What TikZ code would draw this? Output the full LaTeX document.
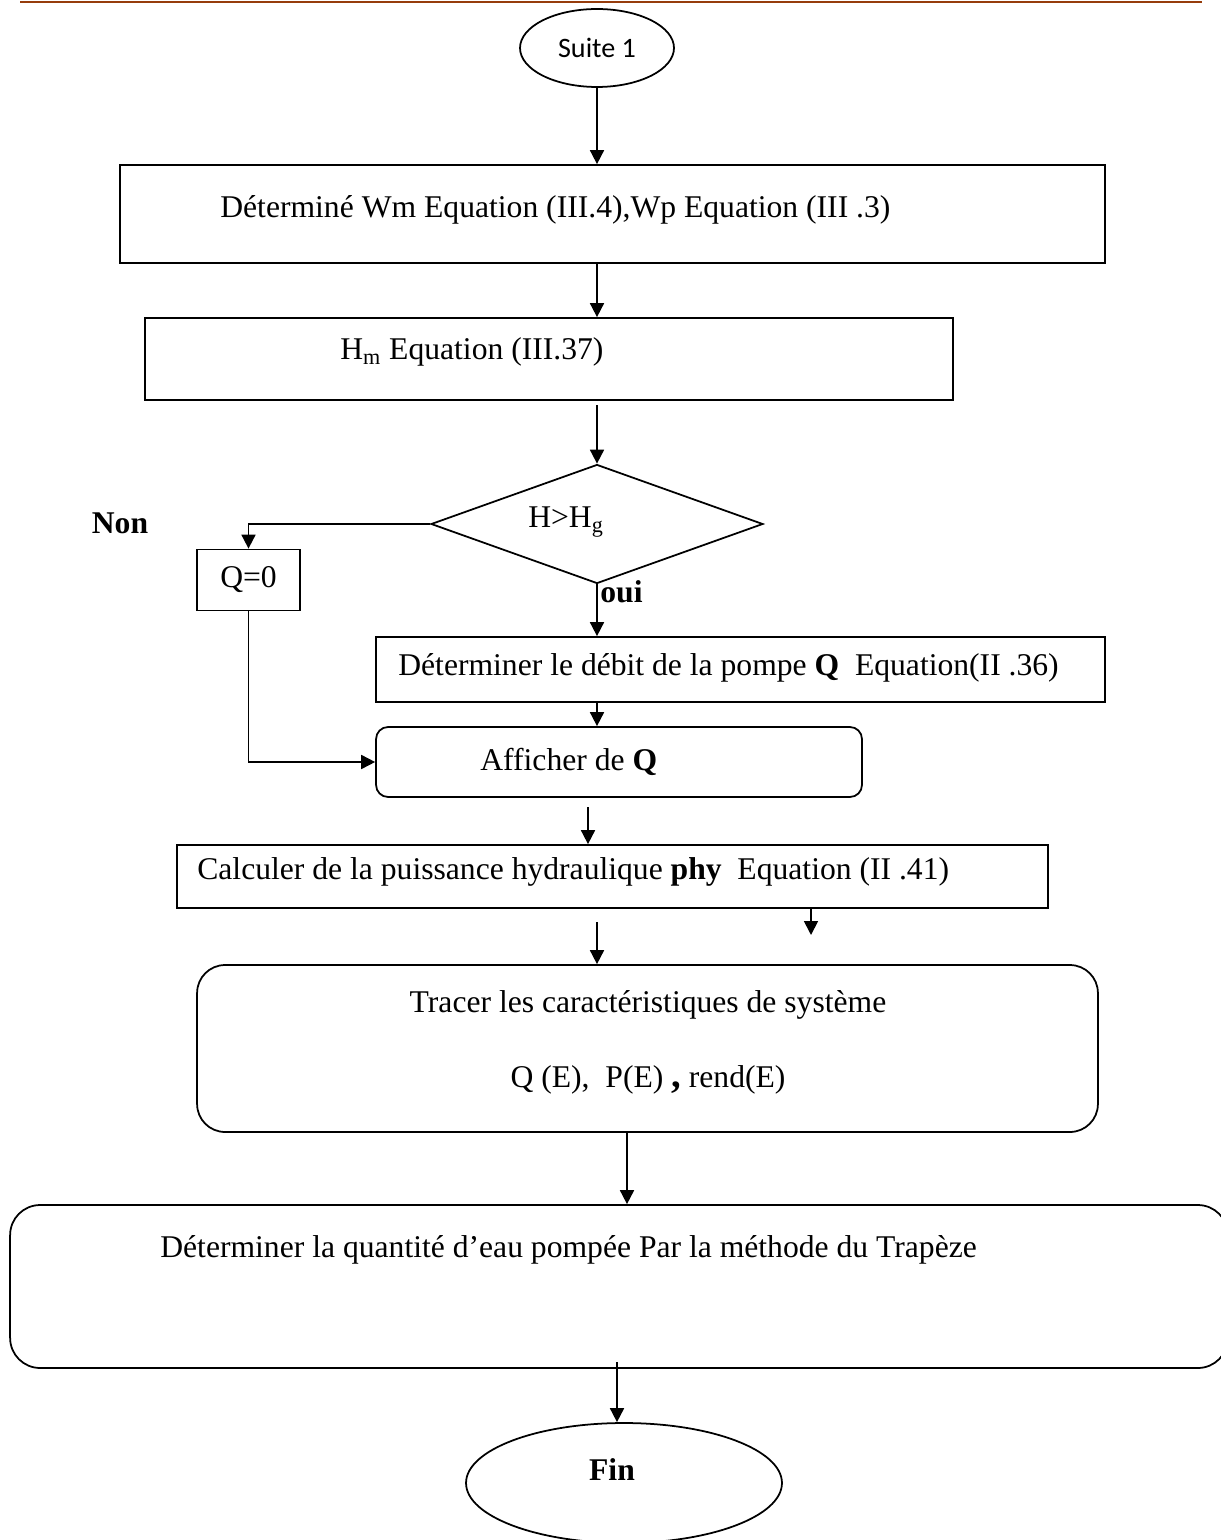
\documentclass[tikz,border=0pt]{standalone}
\usepackage{fontspec}
\setmainfont{Liberation Serif}
\newfontfamily\calibri{Carlito}
\usetikzlibrary{shapes.geometric,arrows.meta,calc}
\definecolor{hdrc}{RGB}{150,60,12}

\begin{document}
\begin{tikzpicture}[x=0.02cm,y=-0.02cm]
\tikzstyle{box}=[draw,line width=1pt,rectangle,inner sep=0pt];
\tikzstyle{rbox}=[box,rounded corners=0.56cm];
\tikzstyle{txt}=[inner sep=0pt,font=\fontsize{18}{21}\selectfont];
\tikzstyle{go}=[line width=1pt,-{Triangle[length=2.8mm,width=2.8mm]}];

\useasboundingbox (0,0) rectangle (1220,1540);
\draw[hdrc,line width=1.2pt] (20,2) -- (1202,2);

% start
\node[draw,ellipse,line width=1pt,minimum width=3.08cm,minimum height=1.56cm,inner sep=0pt,
      font=\calibri\fontsize{16}{19}\selectfont] (suite) at (597,48) {Suite 1};

% boxes
\node[box,minimum width=19.7cm,minimum height=1.96cm] (b1) at (612.5,214) {};
\node[txt,anchor=west] (t1) at (220,210) {Déterminé Wm Equation (III.4),Wp Equation (III .3)};

\node[box,minimum width=16.16cm,minimum height=1.64cm] (b2) at (549,359) {};
\node[txt,anchor=west] (t2) at (340,352) {H\textsubscript{m} Equation (III.37)};

\node[draw,diamond,line width=1pt,minimum width=6.64cm,minimum height=2.38cm,inner sep=0pt] (dec) at (597,524) {};
\node[txt] (tdec) at (566,522) {H>H\textsubscript{g}};
\node[txt,font=\fontsize{18}{21}\selectfont\bfseries] (non) at (120,523) {Non};
\node[txt,font=\fontsize{18}{21}\selectfont\bfseries,anchor=west] (oui) at (600,592) {oui};

\node[box,minimum width=2.06cm,minimum height=1.22cm,font=\fontsize{18}{21}\selectfont] (q0) at (248.5,580) {Q=0};

\node[box,minimum width=14.58cm,minimum height=1.3cm] (b3) at (740.5,669.5) {};
\node[txt,anchor=west] (t3) at (398,668) {Déterminer le débit de la pompe \textbf{Q}\ \ Equation(II .36)};

\node[box,rounded corners=0.24cm,minimum width=9.72cm,minimum height=1.4cm] (b4) at (619,762) {};
\node[txt,anchor=west] (t4) at (480,762) {Afficher de \textbf{Q}};

\node[box,minimum width=17.42cm,minimum height=1.26cm] (b5) at (612.5,876.5) {};
\node[txt,anchor=west] (t5) at (197,872) {Calculer de la puissance hydraulique \textbf{phy}\ \ Equation (II .41)};

\node[rbox,minimum width=18.02cm,minimum height=3.34cm] (b6) at (647.5,1048.5) {};
\node[txt] (t6a) at (648,1005) {Tracer les caractéristiques de système};
\node[txt] (t6b) at (648,1080) {Q (E),\ \ P(E) {\fontsize{22}{22}\selectfont\bfseries ,}\ rend(E)};

\node[rbox,rounded corners=0.6cm,minimum width=24.36cm,minimum height=3.26cm] (b7) at (619,1286.5) {};
\node[txt,anchor=west] (t7) at (160,1250) {Déterminer la quantité d’eau pompée Par la méthode du Trapèze};

% end
\node[draw,ellipse,line width=1pt,minimum width=6.32cm,minimum height=2.4cm,inner sep=0pt] (fin) at (624,1483) {};
\node[txt,font=\fontsize{18}{21}\selectfont\bfseries] (tfin) at (612,1470) {Fin};

% arrows
\coordinate (c2) at (597,405);
\coordinate (c4) at (588,807);
\coordinate (c5) at (811,935);
\coordinate (c6) at (597,922);
\coordinate (c7) at (627,1132);
\coordinate (c8) at (617,1362);

\draw[go] (suite) -- (b1.north -| suite);
\draw[go] (b1.south -| suite) -- (b2.north -| suite);
\draw[go] (c2) -- (dec.north);
\draw[go] (dec.west) -| (q0.north);
\draw[go] (dec.south) -- (b3.north -| dec.south);
\draw[go] (b3.south -| dec.south) -- (b4.north -| dec.south);
\draw[go] (q0.south) |- (b4.west);
\draw[go] (c4) -- (b5.north -| c4);
\draw[go] (b5.south -| c5) -- (c5);
\draw[go] (c6) -- (b6.north -| c6);
\draw[go] (c7) -- (b7.north -| c7);
\draw[go] (c8) -- (c8 |- fin.north);

\end{tikzpicture}
\end{document}
